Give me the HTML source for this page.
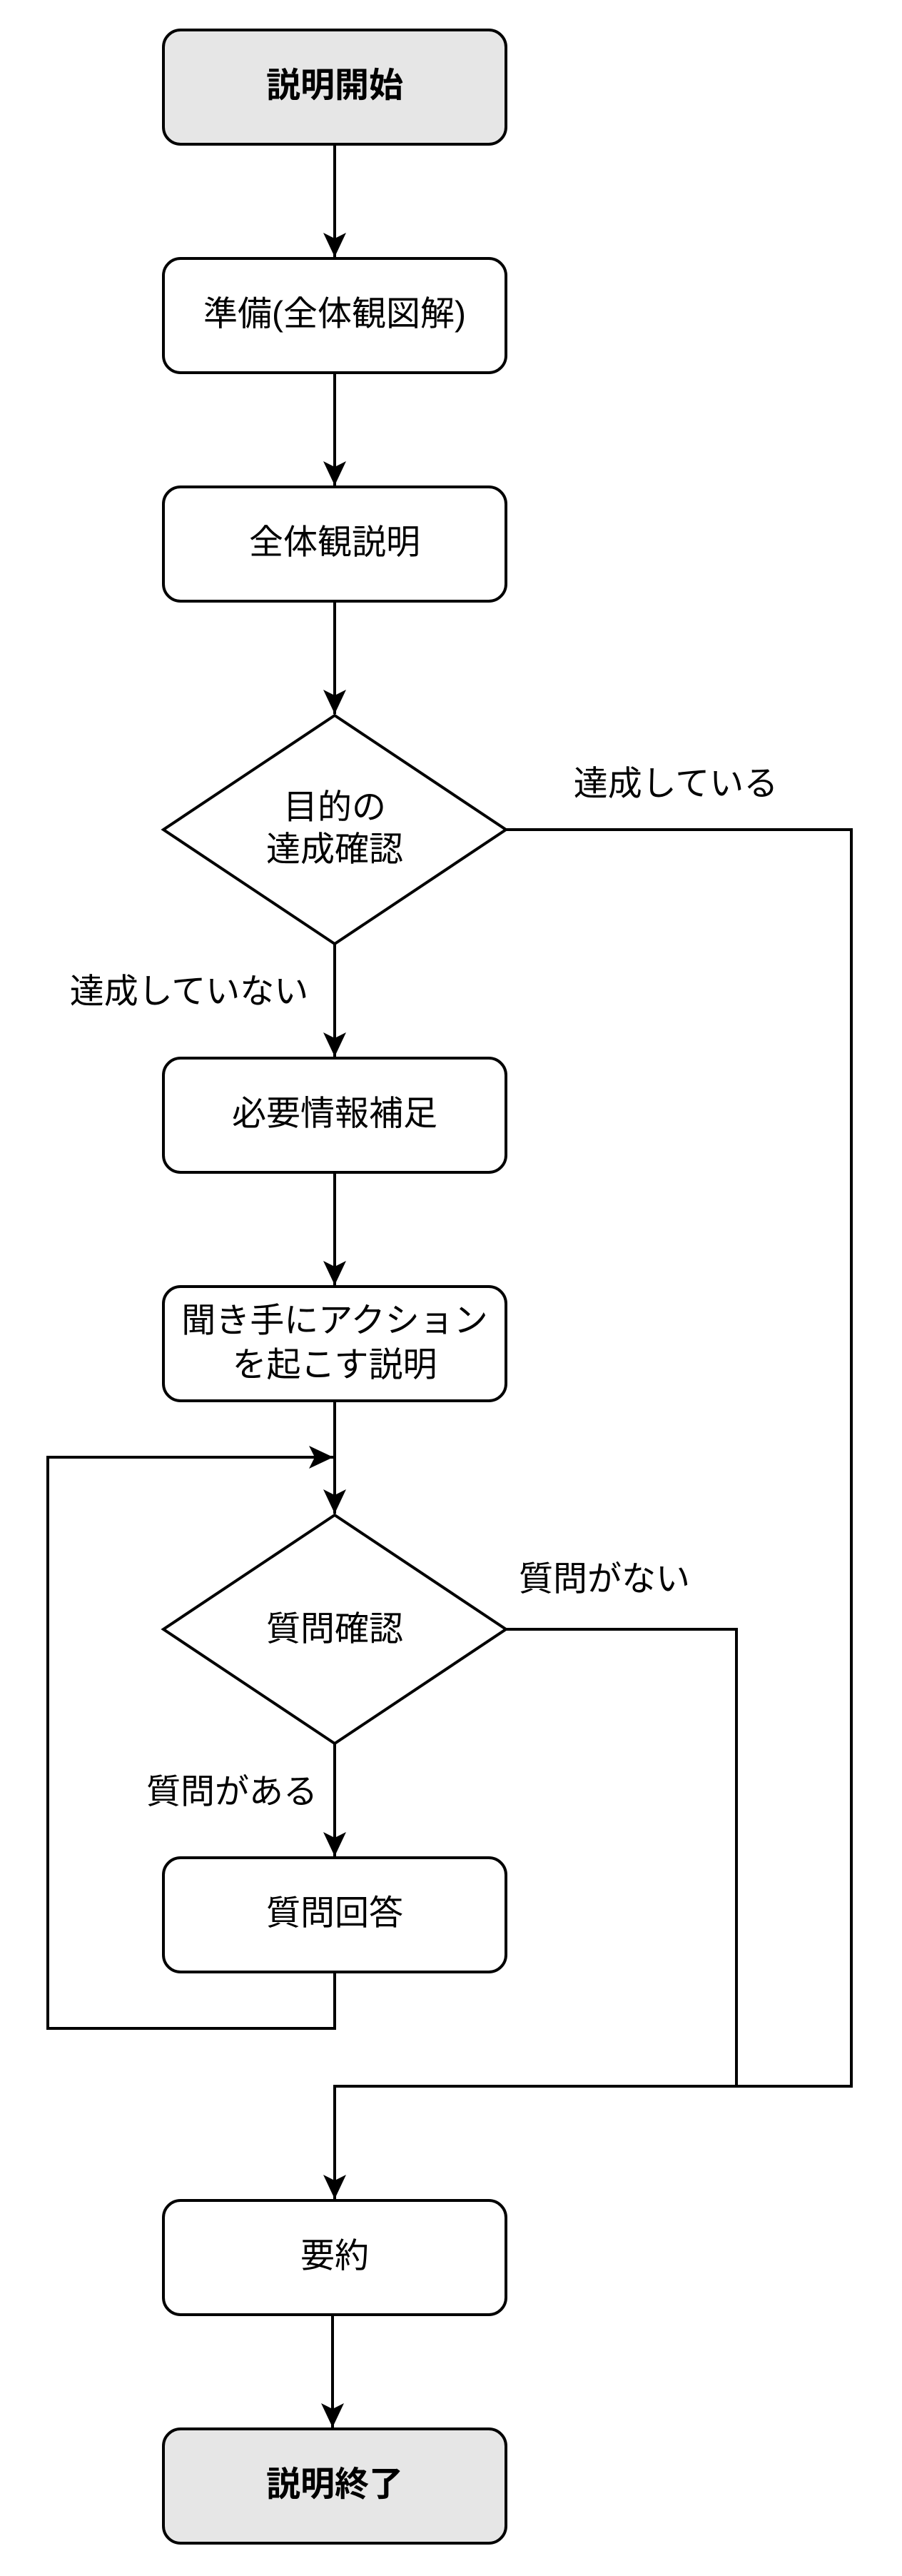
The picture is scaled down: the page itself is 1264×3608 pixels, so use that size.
<!DOCTYPE html>
<html><head><meta charset="utf-8"><style>
html,body{margin:0;padding:0;background:#fff;}
svg{display:block;}
text{font-family:"Liberation Sans","Noto Sans CJK JP",sans-serif;font-size:48px;fill:#000;}
</style></head><body>
<svg width="1264" height="3608" viewBox="0 0 1264 3608" xmlns="http://www.w3.org/2000/svg">
<defs>
<marker id="a" markerWidth="36" markerHeight="36" refX="34" refY="16" orient="auto" markerUnits="userSpaceOnUse">
<path d="M0,0 L34,16 L0,32 L8,16 Z" fill="#000"/>
</marker>
</defs>
<g transform="translate(-3,0)">
<g fill="none" stroke="#000" stroke-width="4">
<line x1="472" y1="202" x2="472" y2="360" marker-end="url(#a)"/>
<line x1="472" y1="522" x2="472" y2="680" marker-end="url(#a)"/>
<line x1="472" y1="842" x2="472" y2="1000" marker-end="url(#a)"/>
<line x1="472" y1="1322" x2="472" y2="1480" marker-end="url(#a)"/>
<line x1="472" y1="1642" x2="472" y2="1800" marker-end="url(#a)"/>
<line x1="472" y1="1962" x2="472" y2="2120" marker-end="url(#a)"/>
<line x1="472" y1="2442" x2="472" y2="2600" marker-end="url(#a)"/>
<polyline points="472,2762 472,2841 70,2841 70,2041 470,2041" marker-end="url(#a)"/>
<polyline points="712,1162 1196,1162 1196,2922 472,2922 472,3080" marker-end="url(#a)"/>
<polyline points="712,2282 1035,2282 1035,2922"/>
<line x1="469" y1="3242" x2="469" y2="3400" marker-end="url(#a)"/>
<rect x="232" y="42" width="480" height="160" rx="24" fill="#e6e6e6"/>
<rect x="232" y="362" width="480" height="160" rx="24" fill="#fff"/>
<rect x="232" y="682" width="480" height="160" rx="24" fill="#fff"/>
<polygon points="472,1002 712,1162 472,1322 232,1162" fill="#fff"/>
<rect x="232" y="1482" width="480" height="160" rx="24" fill="#fff"/>
<rect x="232" y="1802" width="480" height="160" rx="24" fill="#fff"/>
<polygon points="472,2122 712,2282 472,2442 232,2282" fill="#fff"/>
<rect x="232" y="2602" width="480" height="160" rx="24" fill="#fff"/>
<rect x="232" y="3082" width="480" height="160" rx="24" fill="#fff"/>
<rect x="232" y="3402" width="480" height="160" rx="24" fill="#e6e6e6"/>
</g>
<g text-anchor="middle" dominant-baseline="central">
<text x="472" y="120" font-weight="bold">説明開始</text>
<text x="472" y="440">準備(全体観図解)</text>
<text x="472" y="760">全体観説明</text>
<text x="472" y="1131">目的の</text>
<text x="472" y="1190">達成確認</text>
<text x="472" y="1560">必要情報補足</text>
<text x="472" y="1850">聞き手にアクション</text>
<text x="472" y="1912">を起こす説明</text>
<text x="472" y="2282">質問確認</text>
<text x="472" y="2680">質問回答</text>
<text x="472" y="3160">要約</text>
<text x="472" y="3480" font-weight="bold">説明終了</text>
<text x="950" y="1098">達成している</text>
<text x="268" y="1389">達成していない</text>
<text x="850" y="2212">質問がない</text>
<text x="328" y="2510">質問がある</text>
</g>
</g>
</svg>
</body></html>
